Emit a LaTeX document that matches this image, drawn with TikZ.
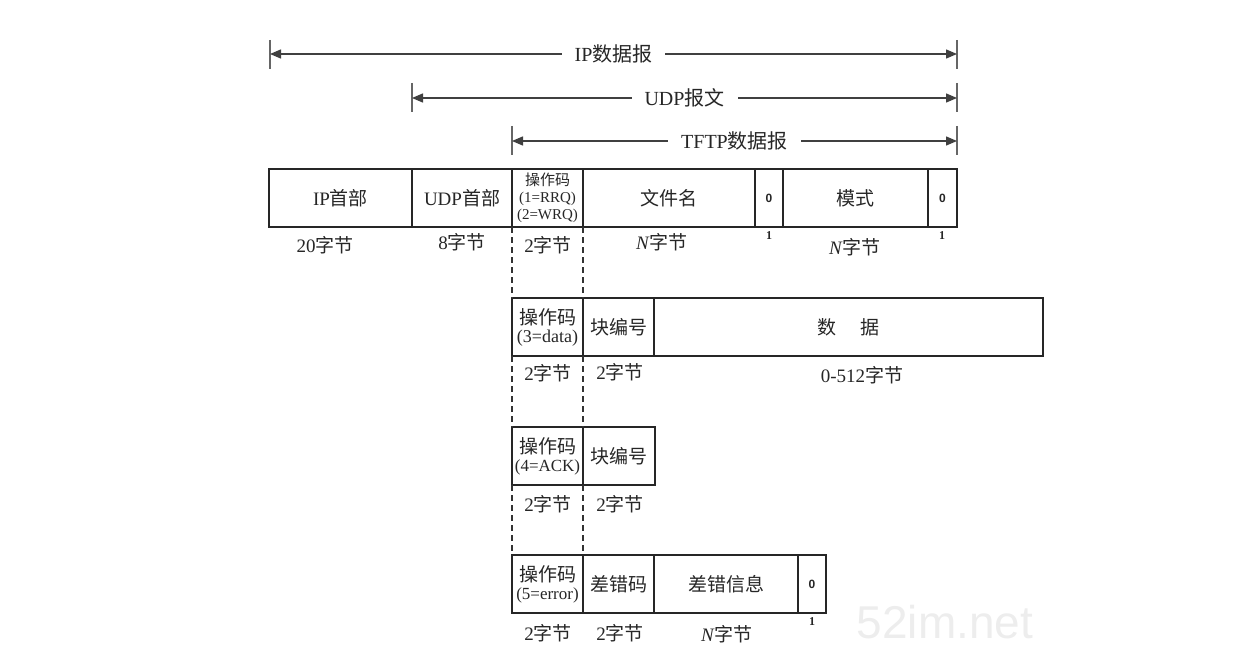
\documentclass[tikz,border=0pt]{standalone}
\usepackage{fontspec}
\setmainfont{Liberation Serif}
\setsansfont{Liberation Sans}
\newfontfamily\cjk{Noto Sans CJK SC}
\newcommand{\C}[1]{{\cjk #1}}
\usetikzlibrary{arrows.meta}
\begin{document}
\begin{tikzpicture}[x=1pt,y=-1pt,
  ink/.style={draw=black!85, line width=1.3pt},
  cell/.style={ink, anchor=north west, inner sep=0pt, outer sep=0pt, minimum height=58pt, align=center,
     font=\fontsize{19}{21}\selectfont, text=black!85},
  lbl/.style={inner sep=0pt, font=\fontsize{19}{21}\selectfont, text=black!85},
  one/.style={inner sep=0pt, font=\fontsize{12}{12}\selectfont\bfseries, text=black!85},
  zero/.style={font=\fontsize{12}{12}\sffamily\bfseries},
  span/.style={draw=black!75, line width=1.3pt, {Triangle[length=11pt,width=9pt]}-{Triangle[length=11pt,width=9pt]}},
  tick/.style={draw=black!60, line width=1.2pt},
  spanlbl/.style={fill=white, inner xsep=13pt, inner ysep=2pt, font=\fontsize{20}{22}\selectfont, text=black!85},
  guide/.style={draw=black!80, line width=1.3pt, dash pattern=on 6pt off 4pt},
]
\useasboundingbox (0,0) rectangle (1240,658);

% watermark
\node[font=\fontsize{46}{50}\sffamily\selectfont, text=black!7] (wm) at (945,622) {52im.net};

% span arrows
\coordinate (ipL) at (270,54); \coordinate (ipR) at (957,54);
\coordinate (udpL) at (412,98); \coordinate (udpR) at (957,98);
\coordinate (tfL) at (512,141); \coordinate (tfR) at (957,141);
\draw[tick] (270,40) -- (270,69);
\draw[tick] (957,40) -- (957,69);
\draw[tick] (412,83) -- (412,112);
\draw[tick] (957,83) -- (957,112);
\draw[tick] (512,126) -- (512,155);
\draw[tick] (957,126) -- (957,155);
\draw[span] (ipL) -- (ipR) node[midway, spanlbl] (iplbl) {IP\C{数据报}};
\draw[span] (udpL) -- (udpR) node[midway, spanlbl] (udplbl) {UDP\C{报文}};
\draw[span] (tfL) -- (tfR) node[midway, spanlbl] (tflbl) {TFTP\C{数据报}};

% row 1: RRQ / WRQ
\node[cell, minimum width=143pt] (iph) at (269,169) {IP\C{首部}};
\node[cell, minimum width=100pt] (udph) at (412,169) {UDP\C{首部}};
\node[cell, minimum width=71pt, font=\fontsize{15}{19}\selectfont] (op1) at (512,169)
  {\C{操作码}\\[-2pt](1=RRQ)\\[-2pt](2=WRQ)};
\node[cell, minimum width=172pt] (fn) at (583,169) {\C{文件名}};
\node[cell, minimum width=28pt, zero] (z1) at (755,169) {0};
\node[cell, minimum width=145pt] (mode) at (783,169) {\C{模式}};
\node[cell, minimum width=29pt, zero] (z2) at (928,169) {0};

\node[lbl] (l11) at (325,245) {20\C{字节}};
\node[lbl] (l12) at (462,242) {8\C{字节}};
\node[lbl] (l13) at (548,245) {2\C{字节}};
\node[lbl] (l14) at (662,242) {\textit{N}\C{字节}};
\node[one] (l15) at (769,236) {1};
\node[lbl] (l16) at (855,247) {\textit{N}\C{字节}};
\node[one] (l17) at (942,236) {1};

% row 2: data
\node[cell, minimum width=71pt] (op2) at (512,298)
  {\C{操作码}\\[-3pt]{\fontsize{18}{20}\selectfont(3=data)}};
\node[cell, minimum width=71pt] (blk2) at (583,298) {\C{块编号}};
\node[cell, minimum width=389pt] (data) at (654,298) {\C{数\hspace{24pt}据}};

\node[lbl] (l21) at (548,373) {2\C{字节}};
\node[lbl] (l22) at (620,372) {2\C{字节}};
\node[lbl] (l23) at (862,375) {0-512\C{字节}};

% row 3: ACK
\node[cell, minimum width=71pt] (op3) at (512,427)
  {\C{操作码}\\[-3pt]{\fontsize{17}{20}\selectfont(4=ACK)}};
\node[cell, minimum width=72pt] (blk3) at (583,427) {\C{块编号}};

\node[lbl] (l31) at (548,504) {2\C{字节}};
\node[lbl] (l32) at (620,504) {2\C{字节}};

% row 4: error
\node[cell, minimum width=71pt] (op4) at (512,555)
  {\C{操作码}\\[-3pt]{\fontsize{17}{20}\selectfont(5=error)}};
\node[cell, minimum width=71pt] (ecode) at (583,555) {\C{差错码}};
\node[cell, minimum width=144pt] (emsg) at (654,555) {\C{差错信息}};
\node[cell, minimum width=28pt, zero] (z3) at (798,555) {0};

\node[lbl] (l41) at (548,633) {2\C{字节}};
\node[lbl] (l42) at (620,633) {2\C{字节}};
\node[lbl] (l43) at (727,634) {\textit{N}\C{字节}};
\node[one] (l44) at (812,622) {1};

% dashed guides between the rows
\draw[guide] (op1.south west) -- (op2.north west);
\draw[guide] (op1.south east) -- (op2.north east);
\draw[guide] (op2.south west) -- (op3.north west);
\draw[guide] (op2.south east) -- (op3.north east);
\draw[guide] (op3.south west) -- (op4.north west);
\draw[guide] (op3.south east) -- (op4.north east);
\end{tikzpicture}
\end{document}
